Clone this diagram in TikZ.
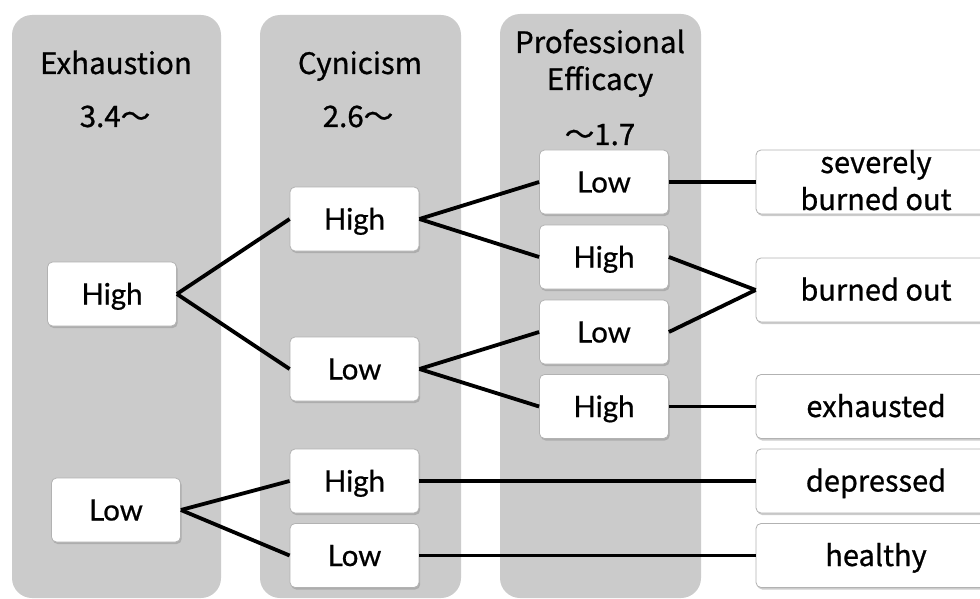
\documentclass[tikz,border=0pt]{standalone}
\usepackage{fontspec}
\setmainfont{Noto Sans CJK JP}[FakeBold=0.8]
\newfontfamily\latofont{Lato}[FakeBold=0.6]
\usetikzlibrary{shadows}
\definecolor{colgray}{HTML}{CBCBCB}
\begin{document}
\begin{tikzpicture}[x=1pt,y=-1pt,
  colbox/.style={fill=colgray, rounded corners=20pt},
  hdr/.style={font=\fontsize{29.5}{34}\selectfont, inner sep=0pt, anchor=base},
  lvl/.style={draw=gray!60, line width=0.8pt, fill=white, rounded corners=5pt,
    minimum width=129pt, minimum height=64pt, inner sep=0pt,
    text height=21pt, text depth=0pt,
    font=\latofont\fontsize{29.5}{34}\selectfont,
    drop shadow={shadow xshift=1.2pt, shadow yshift=-2pt, opacity=0.4}},
  res/.style={lvl, minimum width=240pt, font=\fontsize{29}{34}\selectfont},
  restext/.style={font=\fontsize{29}{34}\selectfont, inner sep=0pt, anchor=base},
  link/.style={line width=3.8pt}]
\useasboundingbox (0,0) rectangle (980,599);
\clip (0,0) rectangle (980,599);
% columns
\fill[colbox] (12,15) rectangle (221,598);
\fill[colbox] (260,15) rectangle (461,598);
\fill[colbox] (500,14) rectangle (701,598);
% headers
\node[hdr] (h1) at (116,74) {Exhaustion};
\node[hdr] (h1v) at (115,127) {3.4～};
\node[hdr] (h2) at (360,74) {Cynicism};
\node[hdr] (h2v) at (358,127) {2.6～};
\node[hdr] (h3a) at (600,53) {Professional};
\node[hdr] (h3b) at (600,90) {Efficacy};
\node[hdr] (h3v) at (600,145) {～1.7};
% level boxes
\node[lvl] (e1) at (112,294) {High};
\node[lvl] (e2) at (116,510) {Low};
\node[lvl] (c1) at (354.5,219) {High};
\node[lvl] (c2) at (354.5,369) {Low};
\node[lvl] (c3) at (354.5,481) {High};
\node[lvl] (c4) at (354.5,555.5) {Low};
\node[lvl] (p1) at (604,182) {Low};
\node[lvl] (p2) at (604,257) {High};
\node[lvl] (p3) at (604,332) {Low};
\node[lvl] (p4) at (604,406.5) {High};
% result boxes
\node[res] (r1) at (876,182) {};
\node[restext] (r1a) at (876,173) {severely};
\node[restext] (r1b) at (876,210) {burned out};
\node[res] (r2) at (876,290) {burned out};
\node[res] (r3) at (876,406.5) {exhausted};
\node[res] (r4) at (876,481) {depressed};
\node[res] (r5) at (876,555.5) {healthy};
% connectors
\draw[link] (e1.east) -- (c1.west);
\draw[link] (e1.east) -- (c2.west);
\draw[link] (e2.east) -- (c3.west);
\draw[link] (e2.east) -- (c4.west);
\draw[link] (c1.east) -- (p1.west);
\draw[link] (c1.east) -- (p2.west);
\draw[link] (c2.east) -- (p3.west);
\draw[link] (c2.east) -- (p4.west);
\draw[link] (p1.east) -- (r1.west);
\draw[link] (p2.east) -- (r2.west);
\draw[link] (p3.east) -- (r2.west);
\draw[link] (p4.east) -- (r3.west);
\draw[link] (c3.east) -- (r4.west);
\draw[link] (c4.east) -- (r5.west);
\end{tikzpicture}
\end{document}
